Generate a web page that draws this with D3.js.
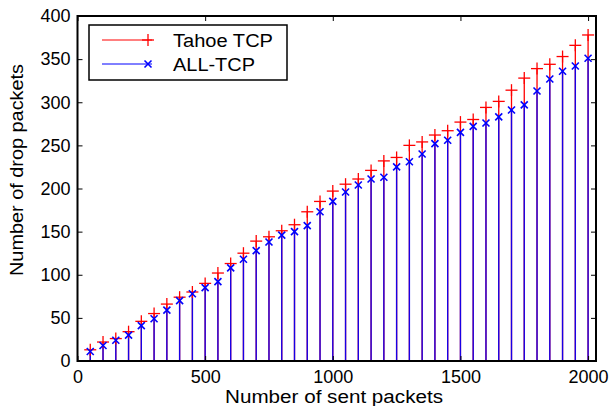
<!DOCTYPE html>
<html>
<head>
<meta charset="utf-8">
<script src="https://cdn.jsdelivr.net/npm/d3@7"></script>
<style>
  body { margin: 0; background: #fff; }
  text { font-family: "Liberation Sans", Arial, sans-serif; fill: #000; }
</style>
</head>
<body>
<div id="chart"></div>
<script>
// number of sent packets (x)
var sent = [50, 100, 150, 200, 250, 300, 350, 400, 450, 500,
  550, 600, 650, 700, 750, 800, 850, 900, 950, 1000,
  1050, 1100, 1150, 1200, 1250, 1300, 1350, 1400, 1450, 1500,
  1550, 1600, 1650, 1700, 1750, 1800, 1850, 1900, 1950, 2000];

// drop packets, Tahoe TCP
var tahoe = [13, 22, 26, 34, 46, 55, 66, 74, 80, 90,
  102, 113, 125, 139, 144, 151, 158, 173, 185, 197,
  205, 211, 221, 232, 236, 250, 254, 262, 267, 277,
  280, 294, 301, 314, 328, 339, 344, 353, 366, 378];

// drop packets, ALL-TCP
var allTcp = [11, 18, 24, 30, 41, 49, 59, 70, 78, 85,
  92, 108, 118, 128, 138, 146, 150, 157, 173, 185,
  196, 204, 211, 213, 225, 231, 240, 252, 256, 265,
  272, 276, 283, 291, 297, 313, 327, 336, 342, 351];

var xTicks = [0, 500, 1000, 1500, 2000];
var yTicks = [0, 50, 100, 150, 200, 250, 300, 350, 400];
var seriesNames = ["Tahoe TCP", "ALL-TCP"];

var W = 610, H = 406;
var pLeft = 77.5, pRight = 596, pTop = 16, pBottom = 361;

var svg = d3.select("#chart").append("svg")
  .attr("width", W).attr("height", H);

var x = d3.scaleLinear().domain([0, 2031]).range([pLeft, pRight]);
var y = d3.scaleLinear().domain([0, 400]).range([pBottom, pTop]);

var plus = function(g, cx, cy, s) {
  g.append("line").attr("x1", cx - s).attr("x2", cx + s).attr("y1", cy).attr("y2", cy);
  g.append("line").attr("x1", cx).attr("x2", cx).attr("y1", cy - s).attr("y2", cy + s);
};
var cross = function(g, cx, cy, s) {
  g.append("line").attr("x1", cx - s).attr("x2", cx + s).attr("y1", cy - s).attr("y2", cy + s);
  g.append("line").attr("x1", cx - s).attr("x2", cx + s).attr("y1", cy + s).attr("y2", cy - s);
};

// stems
var stems = svg.append("g");
stems.selectAll("line.red").data(sent).enter().append("line")
  .attr("class", "red")
  .attr("x1", function(d) { return x(d); }).attr("x2", function(d) { return x(d); })
  .attr("y1", y(0)).attr("y2", function(d, i) { return y(tahoe[i]); })
  .attr("stroke", "#ff0000").attr("stroke-width", 1.3);
stems.selectAll("line.blue").data(sent).enter().append("line")
  .attr("class", "blue")
  .attr("x1", function(d) { return x(d); }).attr("x2", function(d) { return x(d); })
  .attr("y1", y(0)).attr("y2", function(d, i) { return y(allTcp[i]); })
  .attr("stroke", "#0000ff").attr("stroke-width", 1.4).attr("opacity", 0.9);

// markers
var redM = svg.append("g").attr("stroke", "#ff0000").attr("stroke-width", 1.3);
sent.forEach(function(d, i) { plus(redM, x(d), y(tahoe[i]), 6); });
var blueM = svg.append("g").attr("stroke", "#0000ff").attr("stroke-width", 1.6);
sent.forEach(function(d, i) { cross(blueM, x(d), y(allTcp[i]), 3.5); });

// axes
var fmt = d3.format("d");
var axB = d3.axisBottom(x).tickValues(xTicks).tickFormat(fmt).tickSizeInner(-5).tickSizeOuter(0).tickPadding(9);
var axT = d3.axisTop(x).tickValues(xTicks).tickSizeInner(-5).tickSizeOuter(0).tickFormat("");
var axL = d3.axisLeft(y).tickValues(yTicks).tickFormat(fmt).tickSizeInner(-5).tickSizeOuter(0).tickPadding(7);
var axR = d3.axisRight(y).tickValues(yTicks).tickSizeInner(-5).tickSizeOuter(0).tickFormat("");

var style = function(g) {
  g.select(".domain").remove();
  g.selectAll(".tick line").attr("stroke", "#000").attr("stroke-width", 1);
  g.selectAll("text").attr("font-size", 18)
    .attr("font-family", "'Liberation Sans', Arial, sans-serif").attr("fill", "#000");
};
svg.append("g").attr("transform", "translate(0," + pBottom + ")").call(axB).call(style);
svg.append("g").attr("transform", "translate(0," + pTop + ")").call(axT).call(style);
svg.append("g").attr("transform", "translate(" + pLeft + ",0)").call(axL).call(style);
svg.append("g").attr("transform", "translate(" + pRight + ",0)").call(axR).call(style);

svg.append("rect")
  .attr("x", pLeft).attr("y", pTop)
  .attr("width", pRight - pLeft).attr("height", pBottom - pTop)
  .attr("fill", "none").attr("stroke", "#000").attr("stroke-width", 2);

// axis labels
svg.append("text")
  .attr("x", 334).attr("y", 403).attr("text-anchor", "middle")
  .attr("font-size", 18).attr("textLength", 218).attr("lengthAdjust", "spacingAndGlyphs")
  .text("Number of sent packets");
svg.append("text")
  .attr("transform", "translate(23,170) rotate(-90)").attr("text-anchor", "middle")
  .attr("font-size", 18).attr("textLength", 212).attr("lengthAdjust", "spacingAndGlyphs")
  .text("Number of drop packets");

// legend
var lg = svg.append("g");
lg.append("rect").attr("x", 89).attr("y", 25).attr("width", 198).attr("height", 55)
  .attr("fill", "#fff").attr("stroke", "#000").attr("stroke-width", 1.5);
var legY = [40, 64];
var legCol = ["#ff0000", "#0000ff"];
var legLen = [100, 82];
seriesNames.forEach(function(name, i) {
  lg.append("line").attr("x1", 102).attr("x2", 152).attr("y1", legY[i]).attr("y2", legY[i])
    .attr("stroke", legCol[i]).attr("stroke-width", 1);
  var m = lg.append("g").attr("stroke", legCol[i]).attr("stroke-width", i === 0 ? 1.3 : 1.6);
  if (i === 0) plus(m, 148, legY[i], 6); else cross(m, 148, legY[i], 3.5);
  lg.append("text").attr("x", 173).attr("y", legY[i] + 7)
    .attr("font-size", 18).attr("textLength", legLen[i]).attr("lengthAdjust", "spacingAndGlyphs")
    .text(name);
});
</script>
</body>
</html>
